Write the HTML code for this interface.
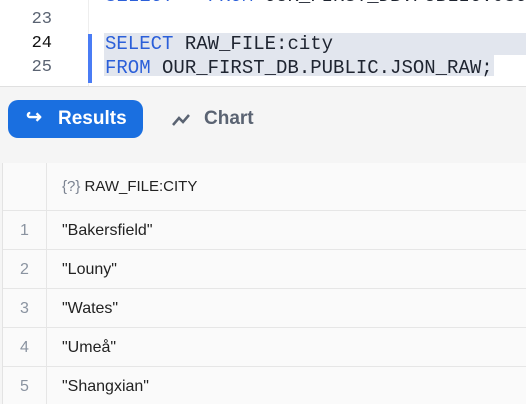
<!DOCTYPE html>
<html><head><style>
body{margin:0;width:526px;height:404px;overflow:hidden;background:#f5f5f5;font-family:"Liberation Sans",sans-serif;position:relative}
.ed{position:absolute;left:0;top:0;width:526px;height:86px;background:#fff;border-bottom:1px solid #e0e0e0;overflow:hidden}
.gut{position:absolute;left:88px;top:0;width:1px;height:86px;background:#eee}
.ln{position:absolute;left:26px;width:26px;text-align:right;font-family:"Liberation Mono",monospace;font-size:17px;color:#5a6372;line-height:24px}
.code{position:absolute;left:105px;font-family:"Liberation Mono",monospace;font-size:19px;color:#1e2430;white-space:pre;line-height:24px}
.kw{color:#2b5fd9}
.sel{position:absolute;background:#e2e6ee}
.tab{position:absolute;left:2px;top:163px;width:524px;height:241px;background:#fafafa;border-left:1px solid #e3e3e3;overflow:hidden}
.row{position:absolute;left:0;width:524px;border-top:1px solid #e6e6e6;font-size:16px;color:#222}
.row .n{position:absolute;left:0;width:43px;text-align:center;color:#8a93a0}
.row .v{position:absolute;left:59px}
.vd{position:absolute;left:43px;top:0;width:1px;height:241px;background:#e6e6e6}
</style></head><body>
<div class="ed">
<div class="gut"></div>
<div class="sel" style="left:104px;top:33px;width:422px;height:22px"></div>
<div class="sel" style="left:104px;top:55px;width:390px;height:21px"></div>
<div style="position:absolute;left:88px;top:34px;width:4px;height:49px;background:#4a7cf5"></div>
<div class="ln" style="top:-15px">22</div>
<div class="ln" style="top:8px">23</div>
<div class="ln" style="top:32px;color:#111">24</div>
<div class="ln" style="top:56px">25</div>
<div class="code" style="top:-16px"><span class="kw">SELECT * FROM</span> OUR_FIRST_DB.PUBLIC.JSON_RAW</div>
<div class="code" style="top:32px"><span class="kw">SELECT</span> RAW_FILE:city</div>
<div class="code" style="top:56px"><span class="kw">FROM</span> OUR_FIRST_DB.PUBLIC.JSON_RAW;</div>
</div>
<div style="position:absolute;left:8px;top:100px;width:135px;height:38px;background:#1a6fe0;border-radius:10px;color:#fff;font-weight:bold;font-size:19px">
<span style="position:absolute;left:18px;top:6px;font-size:19px">&#8618;</span>
<span style="position:absolute;left:50px;top:8px">Results</span></div>
<svg style="position:absolute;left:171px;top:112px" width="20" height="16"><polyline points="2,13 8,6 12,10 18,3" fill="none" stroke="#5a6372" stroke-width="2.5"/></svg>
<div style="position:absolute;left:204px;top:108px;font-size:19px;font-weight:bold;color:#5a6372">Chart</div>
<div class="tab">
<div class="vd"></div>
<div style="position:absolute;left:59px;top:15px;font-size:15px;color:#222"><span style="color:#7a8290">{?}</span> RAW_FILE:CITY</div>
<div class="row" style="top:47px;height:39px"><span class="n" style="top:11px">1</span><span class="v" style="top:11px">"Bakersfield"</span></div>
<div class="row" style="top:86px;height:39px"><span class="n" style="top:11px">2</span><span class="v" style="top:11px">"Louny"</span></div>
<div class="row" style="top:125px;height:39px"><span class="n" style="top:11px">3</span><span class="v" style="top:11px">"Wates"</span></div>
<div class="row" style="top:164px;height:39px"><span class="n" style="top:11px">4</span><span class="v" style="top:11px">"Umeå"</span></div>
<div class="row" style="top:203px;height:37px;border-bottom:1px solid #e6e6e6"><span class="n" style="top:11px">5</span><span class="v" style="top:11px">"Shangxian"</span></div>
</div>
</body></html>
